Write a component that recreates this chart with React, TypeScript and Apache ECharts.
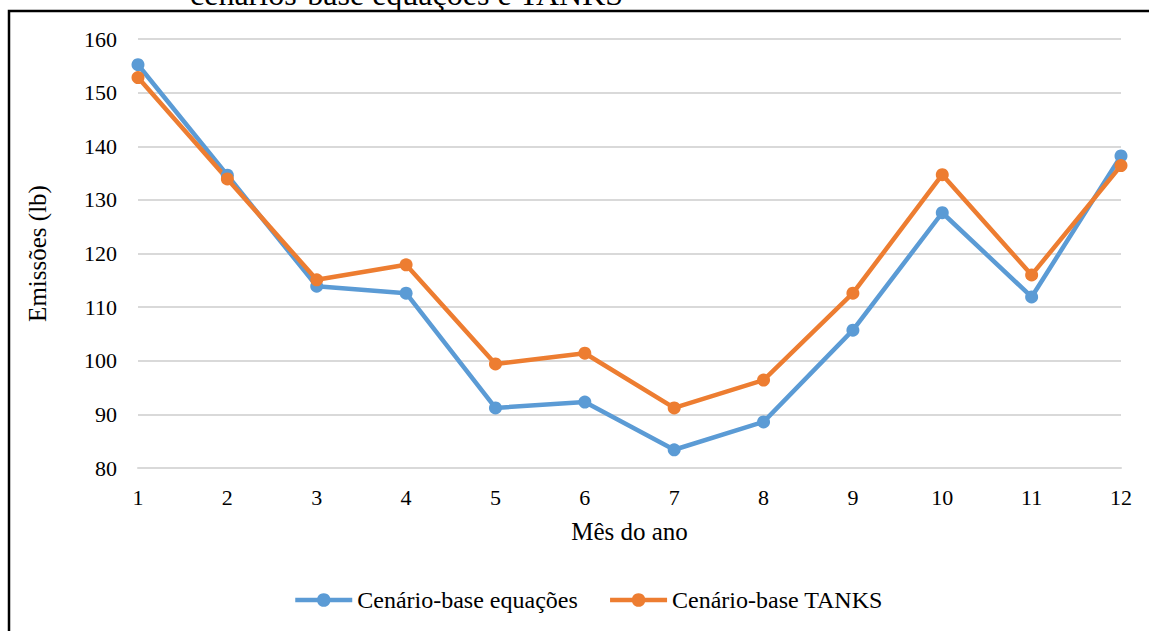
import React, { useEffect, useRef } from "react";
import * as echarts from "echarts";

const months = ["1", "2", "3", "4", "5", "6", "7", "8", "9", "10", "11", "12"];
const equacoes = [155.2, 134.6, 113.9, 112.6, 91.2, 92.3, 83.4, 88.6, 105.7, 127.6, 111.9, 138.2];
const tanks = [152.8, 133.9, 115.1, 117.9, 99.4, 101.4, 91.2, 96.4, 112.6, 134.7, 116.0, 136.4];
const seriesNames = ["Cenário-base equações", "Cenário-base TANKS"];
const colors = ["#5B9BD5", "#ED7D31"];
const FONT = "Liberation Serif";

export default function App() {
  const ref = useRef<HTMLDivElement>(null);
  useEffect(() => {
    if (!ref.current) return;
    const chart = echarts.init(ref.current, null, { renderer: "svg" });
    chart.setOption({
      animation: false,
      backgroundColor: "#ffffff",
      textStyle: { fontFamily: FONT },
      graphic: [
        {
          type: "rect",
          shape: { x: 9, y: 11, width: 1160, height: 640 },
          style: { fill: "none", stroke: "#000", lineWidth: 2.5 },
          silent: true,
        },
        {
          type: "text",
          x: 190,
          y: -6,
          style: {
            text: "cenários-base equações e TANKS",
            fontSize: 32,
            fontFamily: FONT,
            fill: "#000",
            verticalAlign: "middle",
          },
        },
      ],
      color: colors,
      grid: { left: 138, right: 28, top: 39, bottom: 163, containLabel: false },
      legend: {
        left: 293,
        top: 588,
        padding: 0,
        itemWidth: 57,
        itemHeight: 17,
        itemGap: 30,
        lineStyle: { width: 4.5 },
        textStyle: { fontSize: 24, color: "#000", fontFamily: FONT },
        data: seriesNames,
      },
      xAxis: {
        type: "category",
        data: months,
        boundaryGap: false,
        axisLine: { show: true, lineStyle: { color: "#D9D9D9", width: 2 } },
        axisTick: { show: false },
        axisLabel: { fontSize: 22, color: "#000", fontFamily: FONT, margin: 18 },
        name: "Mês do ano",
        nameLocation: "middle",
        nameGap: 51,
        nameTextStyle: { fontSize: 25, color: "#000", fontFamily: FONT },
      },
      yAxis: {
        type: "value",
        min: 80,
        max: 160,
        interval: 10,
        axisLine: { show: false },
        axisTick: { show: false },
        splitLine: { lineStyle: { color: "#D9D9D9", width: 2 } },
        axisLabel: { fontSize: 22, color: "#000", fontFamily: FONT, margin: 21 },
        name: "Emissões (lb)",
        nameLocation: "middle",
        nameGap: 88,
        nameTextStyle: { fontSize: 25, color: "#000", fontFamily: FONT },
      },
      series: [
        {
          name: seriesNames[0],
          type: "line",
          data: equacoes,
          symbol: "circle",
          symbolSize: 13,
          lineStyle: { width: 4.5, color: colors[0] },
          itemStyle: { color: colors[0] },
        },
        {
          name: seriesNames[1],
          type: "line",
          data: tanks,
          symbol: "circle",
          symbolSize: 13,
          lineStyle: { width: 4.5, color: colors[1] },
          itemStyle: { color: colors[1] },
        },
      ],
    });
    return () => chart.dispose();
  }, []);
  return (
    <div
      ref={ref}
      style={{ position: "absolute", left: 0, top: 0, width: 1149, height: 631 }}
    />
  );
}
